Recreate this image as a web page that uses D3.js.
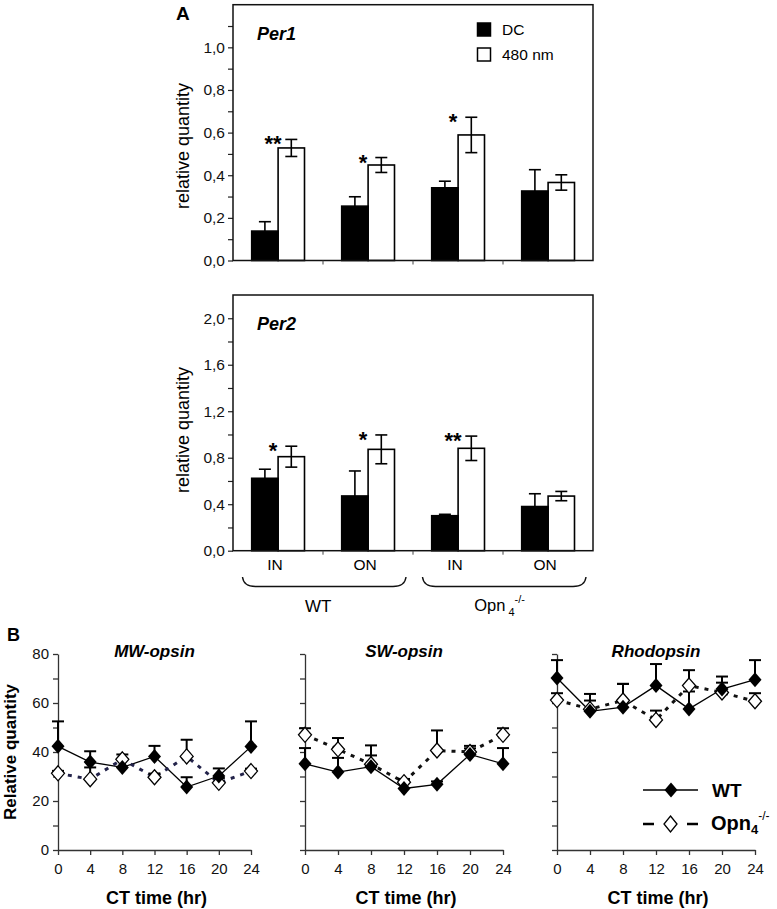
<!DOCTYPE html>
<html><head><meta charset="utf-8">
<script src="https://cdn.jsdelivr.net/npm/d3@7"></script>
<style>body{margin:0;background:#fff} svg{display:block;font-family:"Liberation Sans",Arial,Helvetica,sans-serif}</style>
</head><body>
<svg id="c" width="777" height="909"></svg>
<script>
// ---------- DATA ----------
const groups = ["IN", "ON", "IN", "ON"];
const genotypes = ["WT", "Opn4"];
const seriesNames = ["DC", "480 nm"];

const per1DC       = [0.138, 0.255, 0.341, 0.326];
const per1DCErr    = [0.044, 0.044, 0.031, 0.100];
const per1Light    = [0.528, 0.448, 0.589, 0.366];
const per1LightErr = [0.040, 0.035, 0.083, 0.036];
const per1Stars    = ["**", "*", "*", ""];
const per1Ticks    = [0, 0.1, 0.2, 0.3, 0.4, 0.5, 0.6, 0.7, 0.8, 0.9, 1.0, 1.1];

const per2DC       = [0.623, 0.471, 0.301, 0.380];
const per2DCErr    = [0.078, 0.215, 0.012, 0.110];
const per2Light    = [0.809, 0.872, 0.881, 0.470];
const per2LightErr = [0.090, 0.124, 0.105, 0.040];
const per2Stars    = ["*", "*", "**", ""];
const per2Ticks    = [0, 0.2, 0.4, 0.6, 0.8, 1.0, 1.2, 1.4, 1.6, 1.8, 2.0];

const ctTimes = [0, 4, 8, 12, 16, 20, 24];
const bYTicks = [0, 10, 20, 30, 40, 50, 60, 70, 80];

const mwWT     = [42.3, 35.9, 33.7, 38.2, 25.7, 30.2, 42.2];
const mwWTErr  = [10.2, 4.4, 3.3, 4.3, 4.0, 3.1, 10.3];
const mwOpn    = [31.3, 28.9, 37.0, 29.7, 38.2, 27.4, 32.2];
const mwOpnErr = [1.0, 4.8, 2.0, 1.5, 6.8, 2.0, 1.0];

const swWT     = [35.2, 31.8, 34.0, 25.1, 26.8, 39.0, 35.2];
const swWTErr  = [6.4, 5.8, 8.7, 3.4, 1.2, 3.5, 6.4];
const swOpn    = [47.0, 41.1, 35.0, 27.7, 40.6, 40.0, 47.0];
const swOpnErr = [2.7, 4.6, 3.6, 1.3, 8.2, 1.5, 2.7];

const rhWT     = [70.2, 56.6, 58.3, 67.1, 57.6, 65.7, 69.5];
const rhWTErr  = [7.3, 7.1, 9.5, 8.8, 7.1, 5.1, 8.0];
const rhOpn    = [61.2, 57.5, 61.0, 53.1, 67.1, 64.3, 60.7];
const rhOpnErr = [2.8, 3.5, 6.8, 3.8, 6.3, 4.0, 3.3];

const bTitles = ["MW-opsin", "SW-opsin", "Rhodopsin"];

// ---------- DRAW ----------
const svg = d3.select("#c");
const fmt = v => d3.format(".1f")(v).replace(".", ",");

function diamondPath(cx, cy, hw, hh) {
  return `M${cx},${cy - hh}L${cx + hw},${cy}L${cx},${cy + hh}L${cx - hw},${cy}Z`;
}

function barPanel(cfg) {
  const g = svg.append("g");
  const x0 = d3.scaleBand().domain(d3.range(groups.length)).range([233, 593]);
  const xs = d3.scaleBand().domain(seriesNames).range([18.7, 71.5]);
  const y = d3.scaleLinear().domain([0, cfg.max]).range([cfg.bottom, cfg.top]);

  const ya = g.append("g").attr("transform", "translate(233,0)")
    .call(d3.axisLeft(y).tickValues(cfg.ticks).tickSize(5).tickSizeOuter(0).tickPadding(3)
      .tickFormat(d => (Math.round(d * 10) % cfg.labelEvery === 0 ? fmt(d) : "")));
  ya.select(".domain").remove();
  ya.selectAll("text").attr("font-size", 15.5).attr("fill", "#111");
  ya.selectAll("line").attr("stroke", "#222").attr("stroke-width", 1.2);

  const data = d3.range(groups.length).map(i => [
    {s: "DC", i, v: cfg.dc[i], e: cfg.dcErr[i]},
    {s: "480 nm", i, v: cfg.light[i], e: cfg.lightErr[i]}
  ]).flat();

  const eb = g.append("g").attr("stroke", "#000").attr("stroke-width", 1.6);
  data.forEach(d => {
    const cx = x0(d.i) + xs(d.s) + xs.bandwidth() / 2;
    const lo = d.s === "DC" ? d.v : d.v - d.e;
    eb.append("line").attr("x1", cx).attr("x2", cx).attr("y1", y(d.v + d.e)).attr("y2", y(lo));
    eb.append("line").attr("x1", cx - 6).attr("x2", cx + 6).attr("y1", y(d.v + d.e)).attr("y2", y(d.v + d.e));
    if (d.s !== "DC")
      eb.append("line").attr("x1", cx - 6).attr("x2", cx + 6).attr("y1", y(d.v - d.e)).attr("y2", y(d.v - d.e));
  });
  g.selectAll("rect.bar").data(data).join("rect").attr("class", "bar")
    .attr("x", d => x0(d.i) + xs(d.s))
    .attr("width", xs.bandwidth())
    .attr("y", d => y(d.v))
    .attr("height", d => y(0) - y(d.v))
    .attr("fill", d => d.s === "DC" ? "#000" : "none")
    .attr("stroke", "#000").attr("stroke-width", 1.6);

  cfg.stars.forEach((s, i) => {
    if (!s) return;
    const top = y(cfg.light[i] + cfg.lightErr[i]);
    g.append("text").attr("x", x0(i) + xs("480 nm") - 5).attr("y", top + 12)
      .attr("text-anchor", "middle").attr("font-size", 22).attr("font-weight", "bold")
      .text(s);
  });

  g.append("rect").attr("x", 233).attr("y", cfg.top)
    .attr("width", 360).attr("height", cfg.bottom - cfg.top)
    .attr("fill", "none").attr("stroke", "#111").attr("stroke-width", 1.5);

  d3.range(1, groups.length).forEach(i => {
    g.append("line").attr("x1", x0(i)).attr("x2", x0(i)).attr("y1", cfg.bottom).attr("y2", cfg.bottom + 4)
      .attr("stroke", "#444").attr("stroke-width", 1);
  });

  g.append("text").attr("x", 257).attr("y", cfg.top + 35).attr("font-size", 18)
    .attr("font-weight", "bold").attr("font-style", "italic").text(cfg.title);

  g.append("text").attr("transform", `translate(189,${cfg.labelY}) rotate(-90)`)
    .attr("text-anchor", "middle").attr("font-size", 18).text("relative quantity");

  return {x0, y};
}

barPanel({dc: per1DC, dcErr: per1DCErr, light: per1Light, lightErr: per1LightErr, stars: per1Stars,
  ticks: per1Ticks, max: 1.2, top: 4.7, bottom: 260.5, labelEvery: 2, title: "Per1", labelY: 146});
const p2 = barPanel({dc: per2DC, dcErr: per2DCErr, light: per2Light, lightErr: per2LightErr, stars: per2Stars,
  ticks: per2Ticks, max: 2.2, top: 295, bottom: 550.7, labelEvery: 4, title: "Per2", labelY: 430});

svg.append("text").attr("x", 176).attr("y", 20).attr("font-size", 19).attr("font-weight", "bold").text("A");

seriesNames.forEach((s, i) => {
  svg.append("rect").attr("x", 477.5).attr("y", 23 + i * 25).attr("width", 13).attr("height", 13)
    .attr("fill", i === 0 ? "#000" : "#fff").attr("stroke", "#000").attr("stroke-width", 1.5);
  svg.append("text").attr("x", 502).attr("y", 35 + i * 25).attr("font-size", 15.5).text(s);
});

groups.forEach((gname, i) => {
  svg.append("text").attr("x", p2.x0(i) + p2.x0.bandwidth() / 2 - 3).attr("y", 570)
    .attr("text-anchor", "middle").attr("font-size", 15.5).text(gname);
});

[[0, 1], [2, 3]].forEach((pair, k) => {
  const xl = p2.x0(pair[0]) + 9.5, xr = p2.x0(pair[1]) + p2.x0.bandwidth() - 7;
  const p = d3.path();
  p.moveTo(xl, 577);
  p.quadraticCurveTo(xl + 1, 586.5, xl + 13, 586.5);
  p.lineTo(xr - 13, 586.5);
  p.quadraticCurveTo(xr - 1, 586.5, xr, 577);
  svg.append("path").attr("d", p.toString()).attr("fill", "none").attr("stroke", "#111").attr("stroke-width", 1.4);
  const cx = (xl + xr) / 2;
  if (k === 0) {
    svg.append("text").attr("x", cx - 6).attr("y", 612).attr("text-anchor", "middle").attr("font-size", 17).text(genotypes[0]);
  } else {
    const t = svg.append("text").attr("x", cx - 30).attr("y", 611).attr("font-size", 16.5);
    t.append("tspan").text("Opn");
    t.append("tspan").attr("font-size", 11).attr("dx", 3).attr("dy", 5).text(genotypes[1].slice(3));
    t.append("tspan").attr("font-size", 11).attr("dx", 0).attr("dy", -13).text("-/-");
  }
});

// ---------- PANEL B ----------
svg.append("text").attr("x", 7).attr("y", 641).attr("font-size", 18).attr("font-weight", "bold").text("B");

const bPanels = [
  {x: [58, 251], wt: mwWT, wtErr: mwWTErr, opn: mwOpn, opnErr: mwOpnErr, labels: true, dashColor: "#23234a"},
  {x: [305, 503], wt: swWT, wtErr: swWTErr, opn: swOpn, opnErr: swOpnErr, labels: false, dashColor: "#111"},
  {x: [557, 755], wt: rhWT, wtErr: rhWTErr, opn: rhOpn, opnErr: rhOpnErr, labels: false, dashColor: "#111"}
];
const yB = d3.scaleLinear().domain([0, 80]).range([850, 654]);

bPanels.forEach((P, k) => {
  const g = svg.append("g");
  const x = d3.scaleLinear().domain([0, 24]).range(P.x);

  const ya = g.append("g").attr("transform", `translate(${P.x[0]},0)`)
    .call(d3.axisLeft(yB).tickValues(bYTicks).tickSize(5).tickSizeOuter(0).tickPadding(4)
      .tickFormat(d => (P.labels && d % 20 === 0 ? d : "")));
  ya.selectAll("text").attr("font-size", 15).attr("fill", "#111");
  ya.selectAll("line,path").attr("stroke", "#333").attr("stroke-width", 1.3);

  const xa = g.append("g").attr("transform", "translate(0,850)")
    .call(d3.axisBottom(x).tickValues(ctTimes).tickSize(5).tickSizeOuter(0).tickPadding(8));
  xa.selectAll("text").attr("font-size", 15).attr("fill", "#111");
  xa.selectAll("line,path").attr("stroke", "#333").attr("stroke-width", 1.3);

  const line = d3.line().x((d, i) => x(ctTimes[i])).y(d => yB(d));
  g.append("path").attr("d", line(P.wt)).attr("fill", "none").attr("stroke", "#000").attr("stroke-width", 1.3);
  g.append("path").attr("d", line(P.opn)).attr("fill", "none").attr("stroke", P.dashColor)
    .attr("stroke-width", 3).attr("stroke-dasharray", "4,6");

  const eb = g.append("g").attr("stroke", "#000").attr("stroke-width", 2);
  [[P.opn, P.opnErr], [P.wt, P.wtErr]].forEach(([vals, errs]) => {
    vals.forEach((v, i) => {
      const cx = x(ctTimes[i]);
      eb.append("line").attr("x1", cx).attr("x2", cx).attr("y1", yB(v)).attr("y2", yB(v + errs[i]));
      eb.append("line").attr("x1", cx - 6).attr("x2", cx + 6).attr("y1", yB(v + errs[i])).attr("y2", yB(v + errs[i]));
    });
  });

  P.opn.forEach((v, i) => {
    g.append("path").attr("d", diamondPath(x(ctTimes[i]), yB(v), 6.5, 7.5))
      .attr("fill", "#fff").attr("stroke", "#000").attr("stroke-width", 1.3);
  });
  P.wt.forEach((v, i) => {
    g.append("path").attr("d", diamondPath(x(ctTimes[i]), yB(v), 6.5, 7.5)).attr("fill", "#000");
  });

  g.append("text").attr("x", (P.x[0] + P.x[1]) / 2).attr("y", 657).attr("text-anchor", "middle")
    .attr("font-size", 17).attr("font-weight", "bold").attr("font-style", "italic").text(bTitles[k]);
  g.append("text").attr("x", (P.x[0] + P.x[1]) / 2 + 2).attr("y", 904).attr("text-anchor", "middle")
    .attr("font-size", 18).attr("font-weight", "bold").text("CT time (hr)");
});

svg.append("text").attr("transform", "translate(16,752) rotate(-90)").attr("text-anchor", "middle")
  .attr("font-size", 17).attr("font-weight", "bold").text("Relative quantity");

const lg = svg.append("g");
lg.append("line").attr("x1", 643).attr("x2", 698).attr("y1", 790).attr("y2", 790).attr("stroke", "#000").attr("stroke-width", 1.5);
lg.append("path").attr("d", diamondPath(671, 790, 6.5, 7.5)).attr("fill", "#000");
lg.append("text").attr("x", 712).attr("y", 797).attr("font-size", 19).attr("font-weight", "bold").text("WT");
lg.append("line").attr("x1", 643).attr("x2", 654).attr("y1", 824).attr("y2", 824).attr("stroke", "#000").attr("stroke-width", 2.5);
lg.append("line").attr("x1", 687).attr("x2", 698).attr("y1", 824).attr("y2", 824).attr("stroke", "#000").attr("stroke-width", 2.5);
lg.append("path").attr("d", diamondPath(670.5, 824, 6.5, 8)).attr("fill", "#fff").attr("stroke", "#000").attr("stroke-width", 1.3);
const lt = lg.append("text").attr("x", 711).attr("y", 830).attr("font-size", 20).attr("font-weight", "bold");
lt.append("tspan").text("Opn");
lt.append("tspan").attr("font-size", 13).attr("dy", 4).text("4");
lt.append("tspan").attr("font-size", 12).attr("font-weight", "normal").attr("dy", -14).text("-/-");
</script></body></html>
